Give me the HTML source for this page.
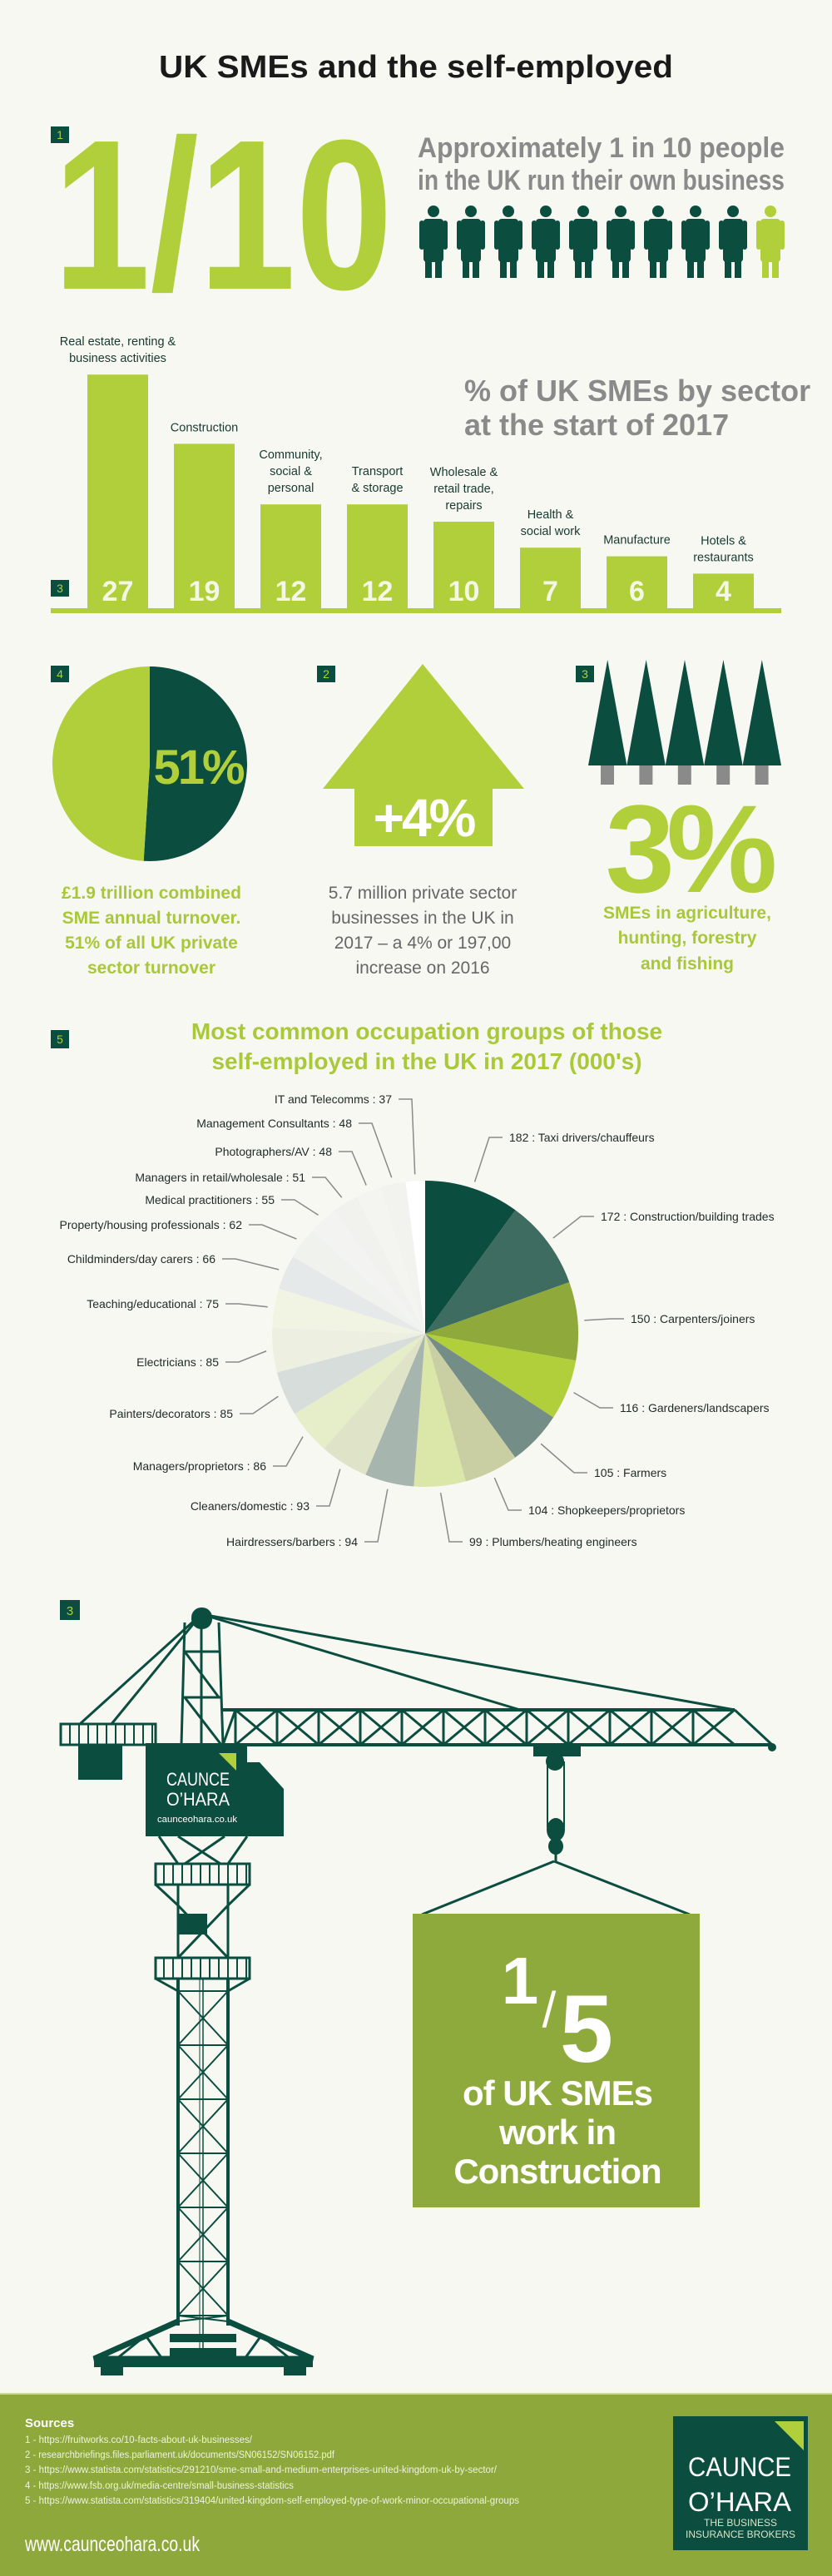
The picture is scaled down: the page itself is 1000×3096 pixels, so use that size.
<!DOCTYPE html>
<html><head><meta charset="utf-8"><title>UK SMEs and the self-employed</title>
<style>
html,body{margin:0;padding:0;background:#f8f8f3;}
svg{display:block;font-family:"Liberation Sans",sans-serif;}
.narrow{font-family:"Liberation Sans Narrow","Liberation Sans",sans-serif;}
</style></head>
<body>
<svg id="root" width="1000" height="3096" viewBox="0 0 1000 3096" xmlns="http://www.w3.org/2000/svg">
<rect width="1000" height="3096" fill="#f8f8f3"/>
<text x="500" y="93" text-anchor="middle" font-size="38" font-weight="bold" fill="#1a1a1a" textLength="618" lengthAdjust="spacingAndGlyphs">UK SMEs and the self-employed</text>

<!-- Section 1 -->
<g><rect x="61" y="152" width="22" height="20" fill="#0b4d3f"/><text x="72" y="167" text-anchor="middle" font-size="14" fill="#b0cf3a">1</text></g>
<text x="64" y="347" font-size="257" font-weight="bold" fill="#b0cf3a" textLength="408" lengthAdjust="spacingAndGlyphs">1/10</text>
<text x="502" y="189" font-size="34" font-weight="bold" fill="#8a8a8a" textLength="441" lengthAdjust="spacingAndGlyphs">Approximately 1 in 10 people</text>
<text x="502" y="228" font-size="34" font-weight="bold" fill="#8a8a8a" textLength="441" lengthAdjust="spacingAndGlyphs">in the UK run their own business</text>
<g id="people"></g>

<!-- Bar chart -->
<g id="bars"></g>
<g><rect x="61" y="697" width="22" height="20" fill="#0b4d3f"/><text x="72" y="712" text-anchor="middle" font-size="14" fill="#b0cf3a">3</text></g>
<text x="558" y="482" font-size="36" font-weight="bold" fill="#8a8a8a">% of UK SMEs by sector</text>
<text x="558" y="523" font-size="36" font-weight="bold" fill="#8a8a8a">at the start of 2017</text>

<!-- Section: turnover pie -->
<g><rect x="61" y="800" width="22" height="20" fill="#0b4d3f"/><text x="72" y="815" text-anchor="middle" font-size="14" fill="#b0cf3a">4</text></g>
<g id="turnoverPie"></g>
<text x="238" y="942" text-anchor="middle" font-size="58" font-weight="bold" fill="#b0cf3a" letter-spacing="-3">51%</text>
<g font-size="21" font-weight="bold" fill="#a8c83a" text-anchor="middle">
<text x="182" y="1080">£1.9 trillion combined</text>
<text x="182" y="1110">SME annual turnover.</text>
<text x="182" y="1140">51% of all UK private</text>
<text x="182" y="1170">sector turnover</text>
</g>

<!-- Section: arrow -->
<g><rect x="381" y="800" width="22" height="20" fill="#0b4d3f"/><text x="392" y="815" text-anchor="middle" font-size="14" fill="#b0cf3a">2</text></g>
<polygon points="508,798 630,948 592,948 592,1017 426,1017 426,948 388,948" fill="#b0cf3a"/>
<text x="509" y="1005" text-anchor="middle" font-size="64" font-weight="bold" fill="#ffffff" letter-spacing="-3">+4%</text>
<g font-size="21" fill="#666666" text-anchor="middle">
<text x="508" y="1080">5.7 million private sector</text>
<text x="508" y="1110">businesses in the UK in</text>
<text x="508" y="1140">2017 – a 4% or 197,00</text>
<text x="508" y="1170">increase on 2016</text>
</g>

<!-- Section: trees -->
<g><rect x="692" y="800" width="22" height="20" fill="#0b4d3f"/><text x="703" y="815" text-anchor="middle" font-size="14" fill="#b0cf3a">3</text></g>
<g id="trees"></g>
<text x="826" y="1072" text-anchor="middle" font-size="150" font-weight="bold" fill="#b0cf3a" letter-spacing="-10">3%</text>
<g font-size="21" font-weight="bold" fill="#a8c83a" text-anchor="middle">
<text x="826" y="1104">SMEs in agriculture,</text>
<text x="826" y="1134">hunting, forestry</text>
<text x="826" y="1165">and fishing</text>
</g>

<!-- Section 5: occupation pie -->
<g><rect x="61" y="1238" width="22" height="22" fill="#0b4d3f"/><text x="72" y="1254" text-anchor="middle" font-size="14" fill="#b0cf3a">5</text></g>
<text x="513" y="1249" text-anchor="middle" font-size="28" font-weight="bold" fill="#a9c93a">Most common occupation groups of those</text>
<text x="513" y="1285" text-anchor="middle" font-size="28" font-weight="bold" fill="#a9c93a">self-employed in the UK in 2017 (000's)</text>
<g id="occPie"></g>

<!-- Crane -->
<g><rect x="72" y="1923" width="24" height="24" fill="#0b4d3f"/><text x="84" y="1941" text-anchor="middle" font-size="15" fill="#b0cf3a">3</text></g>
<g id="crane" stroke="#0b4d3f" fill="none" stroke-width="3">
  <line x1="242" y1="1940" x2="96" y2="2072"/>
  <line x1="242" y1="1940" x2="134" y2="2072"/>
  <line x1="242" y1="1940" x2="625" y2="2055"/>
  <line x1="242" y1="1940" x2="883" y2="2055"/>
  <line x1="222" y1="1950" x2="218" y2="2097"/>
  <line x1="263" y1="1950" x2="268" y2="2097"/>
  <line x1="222" y1="1985" x2="263" y2="1985"/>
  <line x1="221" y1="2040" x2="265" y2="2040"/>
  <line x1="222" y1="1985" x2="263" y2="2040"/>
  <line x1="222" y1="2040" x2="266" y2="2097"/>
  <line x1="242" y1="1955" x2="242" y2="2097"/>
  <rect x="230" y="1932" width="25" height="26" rx="12" fill="#0b4d3f" stroke="none"/>
  <rect x="73" y="2072" width="114" height="25"/>
  <g id="cjslats"></g>
  <rect x="94" y="2097" width="53" height="42" fill="#0b4d3f" stroke="none"/>
  <line x1="268" y1="2055" x2="883" y2="2055" stroke-width="4"/>
  <line x1="268" y1="2097" x2="928" y2="2097" stroke-width="4"/>
  <line x1="883" y1="2055" x2="928" y2="2097"/>
  <line x1="268" y1="2097" x2="283" y2="2055"/>
  <g id="jibtruss"></g>
  <circle cx="928" cy="2100" r="5" fill="#0b4d3f" stroke="none"/>
  <rect x="641" y="2097" width="57" height="14" fill="#0b4d3f" stroke="none"/>
  <circle cx="667" cy="2117" r="11" fill="#0b4d3f" stroke="none"/>
  <line x1="658" y1="2117" x2="658" y2="2196" stroke-width="2"/>
  <line x1="678" y1="2117" x2="678" y2="2196" stroke-width="2"/>
  <ellipse cx="668" cy="2199" rx="11" ry="14" fill="#0b4d3f" stroke="none"/>
  <ellipse cx="668" cy="2219" rx="9" ry="10" fill="#0b4d3f" stroke="none"/>
  <line x1="668" y1="2228" x2="668" y2="2237"/>
  <line x1="666" y1="2237" x2="507" y2="2301"/>
  <line x1="666" y1="2237" x2="829" y2="2301"/>
  <line x1="191" y1="2207" x2="214" y2="2240"/>
  <line x1="297" y1="2207" x2="274" y2="2240"/>
  <line x1="214" y1="2207" x2="265" y2="2240"/>
  <line x1="270" y1="2207" x2="222" y2="2240"/>
  <rect x="187" y="2240" width="113" height="25"/>
  <g id="platslats"></g>
  <line x1="187" y1="2265" x2="214" y2="2290"/>
  <line x1="300" y1="2265" x2="274" y2="2290"/>
  <line x1="214" y1="2265" x2="214" y2="2353"/>
  <line x1="274" y1="2265" x2="274" y2="2353"/>
  <line x1="214" y1="2290" x2="274" y2="2353"/>
  <line x1="274" y1="2290" x2="214" y2="2353"/>
  <rect x="214" y="2300" width="35" height="25" fill="#0b4d3f" stroke="none"/>
  <rect x="187" y="2353" width="113" height="25"/>
  <line x1="187" y1="2378" x2="214" y2="2393"/>
  <line x1="300" y1="2378" x2="274" y2="2393"/>
  <line x1="214" y1="2378" x2="214" y2="2795" stroke-width="4"/>
  <line x1="274" y1="2378" x2="274" y2="2795" stroke-width="4"/>
  <line x1="244" y1="2378" x2="244" y2="2830" stroke-width="1.5"/>
  <line x1="240" y1="2378" x2="240" y2="2830" stroke-width="1"/>
  <g id="shaft" stroke-width="2"></g>
  <polyline points="214,2790 113,2835 376,2835 274,2790" stroke-width="7" stroke-linejoin="miter"/>
  <line x1="140" y1="2835" x2="175" y2="2807" stroke-width="3"/>
  <line x1="175" y1="2807" x2="195" y2="2835" stroke-width="3"/>
  <line x1="349" y1="2835" x2="314" y2="2807" stroke-width="3"/>
  <line x1="314" y1="2807" x2="294" y2="2835" stroke-width="3"/>
  <rect x="113" y="2833" width="263" height="12" fill="#0b4d3f" stroke="none"/>
  <rect x="121" y="2845" width="27" height="10" fill="#0b4d3f" stroke="none"/>
  <rect x="341" y="2845" width="27" height="10" fill="#0b4d3f" stroke="none"/>
  <rect x="204" y="2805" width="80" height="10" fill="#0b4d3f" stroke="none"/>
  <rect x="204" y="2822" width="80" height="10" fill="#0b4d3f" stroke="none"/>
  <polygon points="175,2095 297,2095 297,2118 312,2118 341,2150 341,2207 175,2207" fill="#0b4d3f" stroke="none"/>
  <polygon points="263,2107 284,2107 284,2128" fill="#b0cf3a" stroke="none"/>
</g>
<g fill="#ffffff" font-weight="normal">
<text x="238" y="2146" text-anchor="middle" font-size="22" textLength="76" lengthAdjust="spacingAndGlyphs">CAUNCE</text>
<text x="238" y="2170" text-anchor="middle" font-size="22" textLength="76" lengthAdjust="spacingAndGlyphs">O’HARA</text>
<text x="237" y="2190" text-anchor="middle" font-size="11" textLength="96" lengthAdjust="spacingAndGlyphs">caunceohara.co.uk</text>
</g>
<rect x="496" y="2300" width="345" height="353" fill="#8faa3c"/>
<g fill="#ffffff" font-weight="bold" text-anchor="middle">
<text x="625" y="2408" font-size="80">1</text>
<text x="660" y="2436" font-size="60" font-weight="normal">/</text>
<text x="705" y="2478" font-size="115">5</text>
<text x="670" y="2530" font-size="42" letter-spacing="-1">of UK SMEs</text>
<text x="670" y="2577" font-size="42" letter-spacing="-1">work in</text>
<text x="670" y="2624" font-size="42" letter-spacing="-1">Construction</text>
</g>

<!-- Footer -->
<rect x="0" y="2877" width="1000" height="219" fill="#8ea83b"/>
<rect x="0" y="2876" width="1000" height="2" fill="#c9d79a"/>
<g class="narrow" fill="#eef3dc">
<text x="30" y="2917" font-size="15" font-weight="bold" fill="#ffffff">Sources</text>
<text x="30" y="2936" font-size="11.5" textLength="273" lengthAdjust="spacingAndGlyphs">1 - https://fruitworks.co/10-facts-about-uk-businesses/</text>
<text x="30" y="2954" font-size="11.5" textLength="372" lengthAdjust="spacingAndGlyphs">2 - researchbriefings.files.parliament.uk/documents/SN06152/SN06152.pdf</text>
<text x="30" y="2972" font-size="11.5" textLength="567" lengthAdjust="spacingAndGlyphs">3 - https://www.statista.com/statistics/291210/sme-small-and-medium-enterprises-united-kingdom-uk-by-sector/</text>
<text x="30" y="2991" font-size="11.5" textLength="323" lengthAdjust="spacingAndGlyphs">4 - https://www.fsb.org.uk/media-centre/small-business-statistics</text>
<text x="30" y="3009" font-size="11.5" textLength="594" lengthAdjust="spacingAndGlyphs">5 - https://www.statista.com/statistics/319404/united-kingdom-self-employed-type-of-work-minor-occupational-groups</text>
</g>
<text x="30" y="3066" font-size="25" fill="#ffffff" textLength="210" lengthAdjust="spacingAndGlyphs">www.caunceohara.co.uk</text>
<g>
<rect x="809" y="2904" width="162" height="161" fill="#0b4d3f"/>
<polygon points="931,2910 966,2910 966,2945" fill="#b0cf3a"/>
<text x="889" y="2976" text-anchor="middle" font-size="32" fill="#ffffff" textLength="124" lengthAdjust="spacingAndGlyphs">CAUNCE</text>
<text x="889" y="3018" text-anchor="middle" font-size="32" fill="#ffffff" textLength="124" lengthAdjust="spacingAndGlyphs">O’HARA</text>
<text x="890" y="3036" text-anchor="middle" font-size="12" fill="#d8e4c8" textLength="88" lengthAdjust="spacingAndGlyphs">THE BUSINESS</text>
<text x="890" y="3050" text-anchor="middle" font-size="12" fill="#d8e4c8" textLength="132" lengthAdjust="spacingAndGlyphs">INSURANCE BROKERS</text>
</g>
</svg>

<script>
// ---- data ----
const peopleCount = 10;
const peopleHighlighted = 1;
const sectorLabels = [["Real estate, renting &","business activities"],["Construction"],["Community,","social &","personal"],["Transport","& storage"],["Wholesale &","retail trade,","repairs"],["Health &","social work"],["Manufacture"],["Hotels &","restaurants"]];
const sectorValues = [27, 19, 12, 12, 10, 7, 6, 4];
const turnoverLabels = ["SMEs", "Other"];
const turnoverValues = [51, 49];
const occupationNames = ["Taxi drivers/chauffeurs","Construction/building trades","Carpenters/joiners","Gardeners/landscapers","Farmers","Shopkeepers/proprietors","Plumbers/heating engineers","Hairdressers/barbers","Cleaners/domestic","Managers/proprietors","Painters/decorators","Electricians","Teaching/educational","Childminders/day carers","Property/housing professionals","Medical practitioners","Managers in retail/wholesale","Photographers/AV","Management Consultants","IT and Telecomms"];
const occupationValues = [182,172,150,116,105,104,99,94,93,86,85,85,75,66,62,55,51,48,48,37];
const occupationPalette = ["#0b4d3f","#3e6c60","#8fa93a","#b0cf3a","#748d87","#c9cfa3","#dbe7a9","#a7b5af","#dfe3c7","#e6edc9","#d6dddb","#edefe1","#f1f4e3","#e5e9e9","#f0f2ee","#f3f4f1","#f1f2ee","#f4f4f1","#f2f3ef","#ffffff"];
// layout only: label text anchor point for each slice (x, y)
const labelAnchorX = [612,722,758,745,714,635,564,430,372,320,280,263,263,259,291,330,367,399,423,471];
const labelAnchorY = [1367,1462,1585,1692,1770,1815,1853,1853,1810,1762,1699,1637,1567,1513,1472,1442,1415,1384,1350,1321];

const NS = "http://www.w3.org/2000/svg";
function mk(tag, attrs, parent) {
  const el = document.createElementNS(NS, tag);
  for (const k in attrs) el.setAttribute(k, attrs[k]);
  if (parent) parent.appendChild(el);
  return el;
}

// ---- people ----
const people = document.getElementById('people');
for (let i = 0; i < peopleCount; i++) {
  const cx = 521 + i * 45;
  const col = i >= peopleCount - peopleHighlighted ? "#b0cf3a" : "#0b4d3f";
  const g = mk('g', {fill: col}, people);
  
  
  mk('circle', {cx: cx, cy: 254, r: 7}, g);
  mk('rect', {x: cx - 12, y: 263, width: 24, height: 52, rx: 4}, g);
  mk('rect', {x: cx - 17, y: 265, width: 6, height: 35, rx: 3}, g);
  mk('rect', {x: cx + 11, y: 265, width: 6, height: 35, rx: 3}, g);
  mk('rect', {x: cx - 10, y: 310, width: 8, height: 24}, g);
  mk('rect', {x: cx + 2, y: 310, width: 8, height: 24}, g);
}

// ---- bar chart ----
const bars = document.getElementById('bars');
const barX = i => 105 + i * 104;
const barW = 73;
const baseY = 731;
const barY = v => baseY - v * 10.4;
const axis = mk('rect', {x: 61, y: 731, width: 878, height: 6, fill: "#b0cf3a"}, bars);


sectorValues.forEach((v, i) => {
  const r = mk('rect', {x: barX(i), y: barY(v), width: barW, height: baseY - barY(v), fill: "#b0cf3a"}, bars);
  
  
  const t = mk('text', {x: barX(i) + barW / 2, y: 722, 'text-anchor': 'middle', 'font-size': 34, 'font-weight': 'bold', fill: '#f3f7e4'}, bars);
  t.textContent = v;
  
  
  const lines = sectorLabels[i];
  lines.forEach((ln, j) => {
    const lt = mk('text', {x: barX(i) + barW / 2, y: barY(v) - 15 - (lines.length - 1 - j) * 20, 'text-anchor': 'middle', 'font-size': 14.5, fill: '#173a30'}, bars);
    lt.textContent = ln;
    
    
  });
});

// ---- turnover pie ----
function arcPath(cx, cy, r, a0, a1) {
  const p0 = [cx + r * Math.sin(a0), cy - r * Math.cos(a0)];
  const p1 = [cx + r * Math.sin(a1), cy - r * Math.cos(a1)];
  const large = (a1 - a0) > Math.PI ? 1 : 0;
  return `M${cx},${cy} L${p0[0]},${p0[1]} A${r},${r} 0 ${large} 1 ${p1[0]},${p1[1]} Z`;
}
const tp = document.getElementById('turnoverPie');
const tTotal = turnoverValues.reduce((a, b) => a + b, 0);
let ta = 0;
const tColors = ["#0b4d3f", "#b0cf3a"];
turnoverValues.forEach((v, i) => {
  const a1 = ta + v / tTotal * 2 * Math.PI;
  const p = mk('path', {d: arcPath(180, 918, 117, ta, a1), fill: tColors[i]}, tp);
  
  
  ta = a1;
});

// ---- trees ----
const trees = document.getElementById('trees');
for (let i = 0; i < 5; i++) {
  const x0 = 707 + i * 46.4;
  const tr = mk('polygon', {points: `${x0},920 ${x0 + 23.2},793 ${x0 + 46.4},920`, fill: '#0b4d3f'}, trees);
  
  
  const tk = mk('rect', {x: x0 + 15, y: 920, width: 16, height: 23, fill: '#8a8a8a'}, trees);
  
  
}

// ---- occupation pie ----
const op = document.getElementById('occPie');
const cx = 511, cy = 1603, R = 184;
const oTotal = occupationValues.reduce((a, b) => a + b, 0);
let oa = 0;
occupationValues.forEach((v, i) => {
  const a1 = oa + v / oTotal * 2 * Math.PI;
  const s = mk('path', {d: arcPath(cx, cy, R, oa, a1), fill: occupationPalette[i]}, op);
  
  
  const mid = (oa + a1) / 2;
  const sn = Math.sin(mid), cs = Math.cos(mid);
  const right = mid < Math.PI;
  const sx = cx + (R + 8) * sn, sy = cy - (R + 8) * cs;
  const tx = labelAnchorX[i], ty = labelAnchorY[i];
  const hx = right ? tx - 8 : tx + 8;
  const ex = right ? hx - 16 : hx + 16;
  const ld = mk('polyline', {points: `${sx},${sy} ${ex},${ty} ${hx},${ty}`, fill: 'none', stroke: '#8a8a8a', 'stroke-width': 1.5}, op);
  
  
  const t = mk('text', {x: tx, y: ty + 5, 'text-anchor': right ? 'start' : 'end', 'font-size': 14, fill: '#1f2a26', class: 'narrow'}, op);
  t.textContent = right ? `${v} : ${occupationNames[i]}` : `${occupationNames[i]} : ${v}`;
  
  
  oa = a1;
});

// ---- crane decorative structure ----
const jt = document.getElementById('jibtruss');
for (let x = 283; x < 880; x += 50) {
  const x2 = Math.min(x + 50, 883);
  mk('line', {x1: x, y1: 2055, x2: x, y2: 2097}, jt);
  mk('line', {x1: x, y1: 2055, x2: x2, y2: 2097}, jt);
  mk('line', {x1: x, y1: 2097, x2: x2, y2: 2055}, jt);
}
const cj = document.getElementById('cjslats');
for (let x = 84; x < 187; x += 11) mk('line', {x1: x, y1: 2072, x2: x, y2: 2097, 'stroke-width': 2}, cj);
const ps = document.getElementById('platslats');
[2240, 2353].forEach(y => { for (let x = 197; x < 300; x += 11) mk('line', {x1: x, y1: y, x2: x, y2: y + 25, 'stroke-width': 2}, ps); });
const sh = document.getElementById('shaft');
for (let y = 2393; y < 2790; y += 65) {
  mk('line', {x1: 214, y1: y, x2: 274, y2: y}, sh);
  mk('line', {x1: 214, y1: y, x2: 274, y2: Math.min(y + 65, 2790)}, sh);
  mk('line', {x1: 274, y1: y, x2: 214, y2: Math.min(y + 65, 2790)}, sh);
}
</script>
</body></html>
